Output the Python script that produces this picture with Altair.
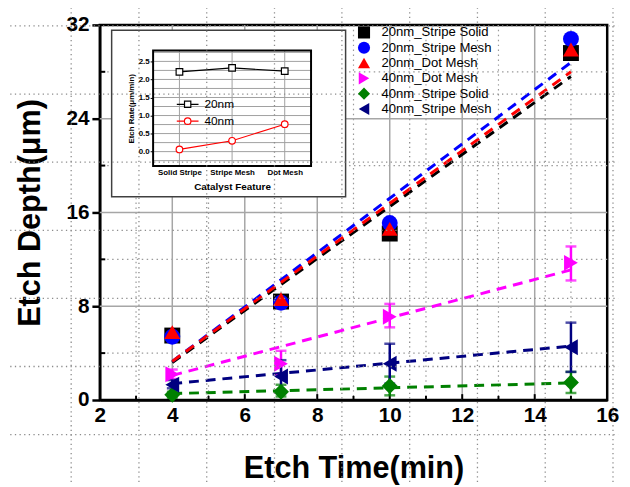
import altair as alt
import pandas as pd

FONT = "Liberation Sans"

# ---------------- main chart data ----------------
times = [4, 7, 10, 15]
series_names = ["20nm_Stripe Solid", "20nm_Stripe Mesh", "20nm_Dot Mesh",
                "40nm_Dot Mesh", "40nm_Stripe Solid", "40nm_Stripe Mesh"]
series_colors = ["#000000", "#0000FF", "#FF0000", "#FF00FF", "#008000", "#000080"]
series_shapes = ["square", "circle", "triangle-up", "triangle-right", "diamond", "triangle-left"]

depth_20_stripe_solid = [5.5, 8.4, 14.2, 29.6]
depth_20_stripe_mesh = [5.4, 8.3, 15.1, 30.8]
depth_20_dot_mesh = [5.8, 8.6, 14.6, 29.9]
depth_40_dot_mesh = [2.2, 3.1, 7.1, 11.7]
depth_40_stripe_solid = [0.45, 0.7, 1.2, 1.5]
depth_40_stripe_mesh = [1.3, 2.0, 3.1, 4.5]

err_lo_40_dot_mesh = [1.8, 2.1, 6.2, 10.2]
err_hi_40_dot_mesh = [2.6, 4.2, 8.2, 13.1]
err_lo_40_stripe_solid = [0.2, 0.3, 0.4, 0.6]
err_hi_40_stripe_solid = [0.7, 1.3, 2.0, 2.4]
err_lo_40_stripe_mesh = [1.0, 0.6, 1.4, 2.4]
err_hi_40_stripe_mesh = [1.7, 3.4, 4.8, 6.6]

fit_times = [4, 15]
fit_20_stripe_solid = [3.2, 27.6]
fit_20_stripe_mesh = [3.3, 28.8]
fit_20_dot_mesh = [3.3, 28.0]
fit_40_dot_mesh = [2.1, 11.1]
fit_40_stripe_solid = [0.55, 1.45]
fit_40_stripe_mesh = [1.4, 4.6]

# gridlines of the original plot
x_major_grid = [4, 6, 8, 10, 12, 14]
x_minor_grid = [3, 5, 7, 9, 11, 13, 15]
y_major_grid = [8, 16, 24]
y_minor_grid = [4, 12, 20, 28]
x_tick_labels = [2, 4, 6, 8, 10, 12, 14, 16]
y_tick_labels = [0, 8, 16, 24, 32]
x_small_ticks = [3, 5, 7, 9, 11, 13, 15]
x_big_ticks = [4, 6, 8, 10, 12, 14]

# spreadsheet-cell dotted grid behind which the figure was pasted (main-axis units)
sheet_x = [1.21, 3.08, 4.95, 6.82, 8.68, 10.55, 12.42, 14.29, 16.16]
sheet_y = [31.92, 26.1, 20.3, 14.48, 8.67, 2.86, -2.95]

# ---------------- inset data ----------------
inset_categories = ["Solid Stripe", "Stripe Mesh", "Dot Mesh"]
inset_groups = ["20nm", "40nm"]
inset_colors = ["#000000", "#FF0000"]
inset_shapes = ["square", "circle"]
rate_20nm = [2.21, 2.32, 2.23]
rate_40nm = [0.06, 0.30, 0.76]
inset_y_ticks = [0.0, 0.5, 1.0, 1.5, 2.0, 2.5]
inset_grid_y = [-0.25, 0.0, 0.25, 0.5, 0.75, 1.0, 1.25, 1.5, 1.75, 2.0, 2.25, 2.5, 2.75]
# legend glyphs for the inset: a short line through an open marker
inset_legend_glyphs = [
    "M-1,0H-0.29M-0.29,-0.29H0.29V0.29H-0.29ZM0.29,0H1",
    "M-1,0H-0.3M-0.3,0A0.3,0.3 0 1,0 0.3,0A0.3,0.3 0 1,0 -0.3,0M0.3,0H1",
]

# ---------------- tables ----------------
depths = [depth_20_stripe_solid, depth_20_stripe_mesh, depth_20_dot_mesh,
          depth_40_dot_mesh, depth_40_stripe_solid, depth_40_stripe_mesh]
fits = [fit_20_stripe_solid, fit_20_stripe_mesh, fit_20_dot_mesh,
        fit_40_dot_mesh, fit_40_stripe_solid, fit_40_stripe_mesh]
errs = {
    "40nm_Dot Mesh": (err_lo_40_dot_mesh, err_hi_40_dot_mesh),
    "40nm_Stripe Solid": (err_lo_40_stripe_solid, err_hi_40_stripe_solid),
    "40nm_Stripe Mesh": (err_lo_40_stripe_mesh, err_hi_40_stripe_mesh),
}

pts = pd.DataFrame([
    {"series": s, "time": t, "depth": d}
    for s, vals in zip(series_names, depths) for t, d in zip(times, vals)
])

xs = alt.Scale(domain=[2, 16], nice=False, zero=False)
ys = alt.Scale(domain=[0, 32], nice=False, zero=False)

x_axis = alt.Axis(values=x_tick_labels, title="Etch Time(min)", grid=False, ticks=False,
                  labelFont=FONT, labelFontSize=21, labelFontWeight="bold", labelColor="black",
                  labelPadding=5, labelFlush=False,
                  titleFont=FONT, titleFontSize=31, titleFontWeight="bold", titleColor="black",
                  titlePadding=28, domainColor="black", domainWidth=2.5)
y_axis = alt.Axis(values=y_tick_labels, title="Etch Depth(μm)", grid=False,
                  tickSize=8, tickWidth=2.5, tickColor="black",
                  labelFont=FONT, labelFontSize=21, labelFontWeight="bold", labelColor="black",
                  labelPadding=3,
                  titleFont=FONT, titleFontSize=31, titleFontWeight="bold", titleColor="black",
                  titlePadding=20, domainColor="black", domainWidth=2.5)


def X(field):
    return alt.X(field, scale=xs, axis=x_axis)


def Y(field):
    return alt.Y(field, scale=ys, axis=y_axis)


layers = []
# dotted minor grid
layers.append(alt.Chart(pd.DataFrame({"g": x_minor_grid})).mark_rule(
    color="#9a9a9a", strokeWidth=1.2, strokeDash=[1.5, 3.5]).encode(x=X("g:Q")))
layers.append(alt.Chart(pd.DataFrame({"g": y_minor_grid})).mark_rule(
    color="#9a9a9a", strokeWidth=1.2, strokeDash=[1.5, 3.5]).encode(y=Y("g:Q")))
# solid major grid
layers.append(alt.Chart(pd.DataFrame({"g": x_major_grid})).mark_rule(
    color="#a6a6a6", strokeWidth=1.5).encode(x=X("g:Q")))
layers.append(alt.Chart(pd.DataFrame({"g": y_major_grid})).mark_rule(
    color="#a6a6a6", strokeWidth=1.5).encode(y=Y("g:Q")))
# inward ticks
layers.append(alt.Chart(pd.DataFrame({"t": x_small_ticks, "a": [0] * len(x_small_ticks),
                                      "b": [0.35] * len(x_small_ticks)})).mark_rule(
    color="black", strokeWidth=2).encode(x=X("t:Q"), y=Y("a:Q"), y2="b:Q"))
layers.append(alt.Chart(pd.DataFrame({"t": x_big_ticks, "a": [0] * len(x_big_ticks),
                                      "b": [0.5] * len(x_big_ticks)})).mark_rule(
    color="black", strokeWidth=2).encode(x=X("t:Q"), y=Y("a:Q"), y2="b:Q"))
layers.append(alt.Chart(pd.DataFrame({"t": y_minor_grid, "a": [2] * 4, "b": [2.15] * 4})).mark_rule(
    color="black", strokeWidth=2).encode(y=Y("t:Q"), x=X("a:Q"), x2="b:Q"))

# dashed fit lines
for s, c, f in zip(series_names, series_colors, fits):
    fd = pd.DataFrame({"time": fit_times, "depth": f})
    layers.append(alt.Chart(fd).mark_line(color=c, strokeWidth=3, strokeDash=[10, 7]).encode(
        x=X("time:Q"), y=Y("depth:Q")))

# error bars
for s, c in zip(series_names, series_colors):
    if s not in errs:
        continue
    lo, hi = errs[s]
    ed = pd.DataFrame({"time": times, "lo": lo, "hi": hi})
    layers.append(alt.Chart(ed).mark_rule(color=c, strokeWidth=2.5).encode(
        x=X("time:Q"), y=Y("lo:Q"), y2="hi:Q"))
    cd = pd.DataFrame({"time": times * 2, "v": lo + hi})
    layers.append(alt.Chart(cd).mark_tick(color=c, orient="horizontal", size=11, thickness=2.5).encode(
        x=X("time:Q"), y=Y("v:Q")))

main_legend = alt.Legend(title=None, orient="none", legendX=261, legendY=1,
                         labelFont=FONT, labelFontSize=13.3, labelColor="black",
                         symbolSize=150, rowPadding=1.5, labelOffset=11,
                         symbolStrokeWidth=0)
layers.append(alt.Chart(pts).mark_point(filled=True, size=260, opacity=1, strokeWidth=0).encode(
    x=X("time:Q"), y=Y("depth:Q"),
    color=alt.Color("series:N", scale=alt.Scale(domain=series_names, range=series_colors),
                    legend=main_legend, sort=series_names),
    shape=alt.Shape("series:N", scale=alt.Scale(domain=series_names, range=series_shapes),
                    legend=main_legend, sort=series_names),
))

main = alt.layer(*layers)

# ---------------- inset ----------------
one = pd.DataFrame({"a": [0]})
ixs = alt.Scale(type="point", domain=inset_categories, range=[54, 214], padding=0.5)
iys = alt.Scale(domain=[-0.4, 2.8], range=[143, 26], nice=False, zero=False)
inset_x_axis = alt.Axis(orient="bottom", offset=-237, title="Catalyst Feature", grid=False,
                        ticks=False, domain=False, labelAngle=0,
                        labelFont=FONT, labelFontSize=8, labelFontWeight="bold", labelColor="black",
                        labelPadding=3, titleFont=FONT, titleFontSize=10, titleFontWeight="bold",
                        titleColor="black", titlePadding=5, zindex=2)
inset_y_axis = alt.Axis(orient="left", offset=-54, title="Etch Rate(μm/min)", grid=False,
                        values=inset_y_ticks, format=".1f", domain=False,
                        tickSize=3, tickColor="black", tickWidth=1,
                        labelFont=FONT, labelFontSize=8, labelFontWeight="bold", labelColor="black",
                        labelPadding=1, titleFont=FONT, titleFontSize=8, titleFontWeight="bold",
                        titleColor="black", titlePadding=3, zindex=2)


def IX(field):
    return alt.X(field, scale=ixs, axis=inset_x_axis, sort=inset_categories)


def IY(field):
    return alt.Y(field, scale=iys, axis=inset_y_axis)


ilayers = []
ilayers.append(alt.Chart(one).mark_rect(fill="white", stroke="#404040", strokeWidth=1.5).encode(
    x=alt.value(12), x2=alt.value(249), y=alt.value(5.5), y2=alt.value(174)))
ilayers.append(alt.Chart(pd.DataFrame({"v": inset_grid_y})).mark_rule(
    color="#9f9f9f", strokeWidth=1).encode(y=IY("v:Q"), x=alt.value(54), x2=alt.value(214)))
ilayers.append(alt.Chart(pd.DataFrame({"c": inset_categories, "lo": [-0.4] * 3,
                                       "hi": [2.8] * 3})).mark_rule(
    color="#9f9f9f", strokeWidth=1).encode(x=IX("c:N"), y=IY("lo:Q"), y2="hi:Q"))
ilayers.append(alt.Chart(one).mark_rect(fill=None, stroke="black", strokeWidth=2).encode(
    x=alt.value(54), x2=alt.value(214), y=alt.value(26), y2=alt.value(143)))

inset_df = pd.DataFrame(
    [{"nm": "20nm", "cat": c, "rate": r} for c, r in zip(inset_categories, rate_20nm)] +
    [{"nm": "40nm", "cat": c, "rate": r} for c, r in zip(inset_categories, rate_40nm)])
for g, col, shp in zip(inset_groups, inset_colors, inset_shapes):
    sub = inset_df[inset_df.nm == g]
    ilayers.append(alt.Chart(sub).mark_line(color=col, strokeWidth=1.2).encode(
        x=IX("cat:N"), y=IY("rate:Q")))
    ilayers.append(alt.Chart(sub).mark_point(shape=shp, filled=False, fill="white", color=col,
                                             size=45, strokeWidth=1.2, opacity=1).encode(
        x=IX("cat:N"), y=IY("rate:Q")))

# invisible layer that only carries the inset legend
inset_legend = alt.Legend(title=None, orient="none", legendX=77, legendY=75,
                          labelFont=FONT, labelFontSize=12, labelColor="black",
                          symbolSize=484, clipHeight=11, rowPadding=4, labelOffset=5,
                          symbolStrokeWidth=1.2, symbolFillColor="white", symbolOpacity=1)
ilayers.append(alt.Chart(inset_df).mark_point(filled=False, opacity=0).encode(
    x=IX("cat:N"), y=IY("rate:Q"),
    color=alt.Color("nm:N", scale=alt.Scale(domain=inset_groups, range=inset_colors), legend=inset_legend),
    shape=alt.Shape("nm:N", scale=alt.Scale(domain=inset_groups, range=inset_legend_glyphs),
                    legend=inset_legend)))
inset = alt.layer(*ilayers)

# ---------------- spreadsheet dotted grid on top ----------------
oxs = alt.Scale(domain=[2, 16], nice=False, zero=False)
oys = alt.Scale(domain=[0, 32], nice=False, zero=False)
over_v = alt.Chart(pd.DataFrame({"g": sheet_x, "a": [-7] * len(sheet_x), "b": [34] * len(sheet_x)})).mark_rule(
    color="#8c8c8c", strokeWidth=1.3, strokeDash=[1.3, 3.4]).encode(
    x=alt.X("g:Q", scale=oxs, axis=None), y=alt.Y("a:Q", scale=oys, axis=None), y2="b:Q")
over_h = alt.Chart(pd.DataFrame({"g": sheet_y, "a": [-0.6] * len(sheet_y), "b": [16.3] * len(sheet_y)})).mark_rule(
    color="#8c8c8c", strokeWidth=1.3, strokeDash=[1.3, 3.4]).encode(
    y=alt.Y("g:Q", scale=oys, axis=None), x=alt.X("a:Q", scale=oxs, axis=None), x2="b:Q")
overlay = alt.layer(over_v, over_h)

chart = alt.layer(main, inset, overlay).resolve_scale(
    x="independent", y="independent", color="independent", shape="independent"
).properties(
    width=514, height=380,
    padding={"left": 93, "top": 14, "right": 15, "bottom": 85},
    autosize=alt.AutoSizeParams(type="none"),
    background="white",
).configure_view(stroke="black", strokeWidth=2.5)

chart.save("out.html", embed_options={"renderer": "svg", "actions": False})
